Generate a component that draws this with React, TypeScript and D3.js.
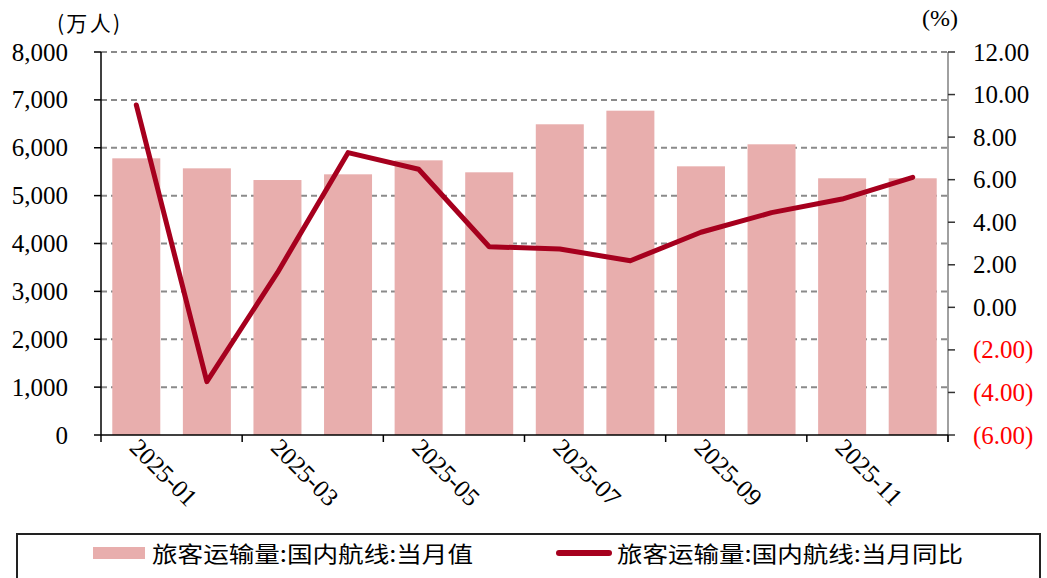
import React from "react";
import * as d3 from "d3";

const months = ["2025-01","2025-02","2025-03","2025-04","2025-05","2025-06","2025-07","2025-08","2025-09","2025-10","2025-11","2025-12"];
const volume = [5779, 5570, 5326, 5445, 5737, 5487, 6490, 6774, 5612, 6072, 5362, 5362];
const yoy = [9.51, -3.49, 1.63, 7.27, 6.49, 2.85, 2.74, 2.19, 3.53, 4.45, 5.09, 6.11];
const leftTicks = [0, 1000, 2000, 3000, 4000, 5000, 6000, 7000, 8000];
const rightTicks = [-6, -4, -2, 0, 2, 4, 6, 8, 10, 12];
const xTickLabels = ["2025-01","2025-03","2025-05","2025-07","2025-09","2025-11"];
const barLegend = "旅客运输量:国内航线:当月值";
const lineLegend = "旅客运输量:国内航线:当月同比";

const W = 1047, H = 578;
const L = 101, R = 948, T = 52, B = 435;
const SERIF = "'Liberation Serif', 'Times New Roman', serif";
const CJK = "'Noto Sans CJK SC', sans-serif";
const BAR = "#E8AEAD";
const LINE = "#A6001E";

export default function App() {
  const x = d3.scaleBand<string>().domain(months).range([L, R]).paddingInner(0.32).paddingOuter(0.16);
  const yL = d3.scaleLinear().domain([0, 8000]).range([B, T]);
  const yR = d3.scaleLinear().domain([-6, 12]).range([B, T]);
  const step = x.step();
  const cx = (m: string) => (x(m) as number) + x.bandwidth() / 2;
  const line = d3.line<number>().x((_, i) => cx(months[i])).y((d) => yR(d));
  const fmtL = d3.format(",");
  const fmtR = (v: number) => (v < 0 ? `(${Math.abs(v).toFixed(2)})` : v.toFixed(2));
  const boundaries = d3.range(0, months.length + 1, 2).map((i) => L + i * step);

  return (
    <svg width={W} height={H} style={{ position: "absolute", left: 0, top: 0, background: "#fff" }}>
      {leftTicks.filter((t) => t > 0).map((t) => (
        <line key={"g" + t} x1={L} x2={R} y1={yL(t)} y2={yL(t)} stroke="#8a8a8a" strokeWidth={2} strokeDasharray="6 4" />
      ))}
      {volume.map((v, i) => (
        <rect key={"b" + i} x={x(months[i])} y={yL(v)} width={x.bandwidth()} height={B - yL(v)} fill={BAR} />
      ))}
      <path d={line(yoy) || ""} fill="none" stroke={LINE} strokeWidth={5} strokeLinejoin="round" strokeLinecap="round" />
      <line x1={L} x2={L} y1={T} y2={B} stroke="#000" strokeWidth={1.5} />
      {leftTicks.map((t) => (
        <g key={"l" + t}>
          <line x1={L - 7} x2={L} y1={yL(t)} y2={yL(t)} stroke="#000" strokeWidth={1.5} />
          <text x={68} y={yL(t)} dy="0.34em" textAnchor="end" fontFamily={SERIF} fontSize={25} fill="#000">{fmtL(t)}</text>
        </g>
      ))}
      <line x1={R} x2={R} y1={T} y2={B + 7} stroke="#808080" strokeWidth={1.5} />
      {rightTicks.map((t) => (
        <g key={"r" + t}>
          <line x1={R} x2={R + 7} y1={yR(t)} y2={yR(t)} stroke="#333" strokeWidth={1.5} />
          <text x={973} y={yR(t)} dy="0.34em" textAnchor="start" fontFamily={SERIF} fontSize={25} fill={t < 0 ? "#FF0000" : "#000"}>{fmtR(t)}</text>
        </g>
      ))}
      <line x1={L} x2={R} y1={B} y2={B} stroke="#000" strokeWidth={1.5} />
      {boundaries.map((bx, i) => (
        <line key={"t" + i} x1={bx} x2={bx} y1={B} y2={B + 7} stroke="#000" strokeWidth={1.5} />
      ))}
      {xTickLabels.map((m) => {
        const px = cx(m) - 8, py = 449;
        return (
          <text key={m} x={px} y={py} transform={`rotate(45 ${px} ${py})`} fontFamily={SERIF} fontSize={25} fill="#000">{m}</text>
        );
      })}
      <text x={57} y={24} dy="0.35em" fontFamily={CJK} fontSize={21} fill="#000" textLength={63} lengthAdjust="spacing">(万人)</text>
      <text x={922} y={18} dy="0.35em" fontFamily={SERIF} fontSize={24} fill="#000">(%)</text>
      <rect x={17} y={534} width={1023} height={60} fill="none" stroke="#222" strokeWidth={2} />
      <rect x={93} y={547} width={52} height={12} fill={BAR} />
      <text x={152} y={554} dy="0.35em" fontFamily={CJK} fontSize={22} fill="#000" textLength={321} lengthAdjust="spacingAndGlyphs">{barLegend}</text>
      <line x1={559} x2={609} y1={553} y2={553} stroke={LINE} strokeWidth={6} strokeLinecap="round" />
      <text x={617} y={554} dy="0.35em" fontFamily={CJK} fontSize={22} fill="#000" textLength={346} lengthAdjust="spacingAndGlyphs">{lineLegend}</text>
    </svg>
  );
}
